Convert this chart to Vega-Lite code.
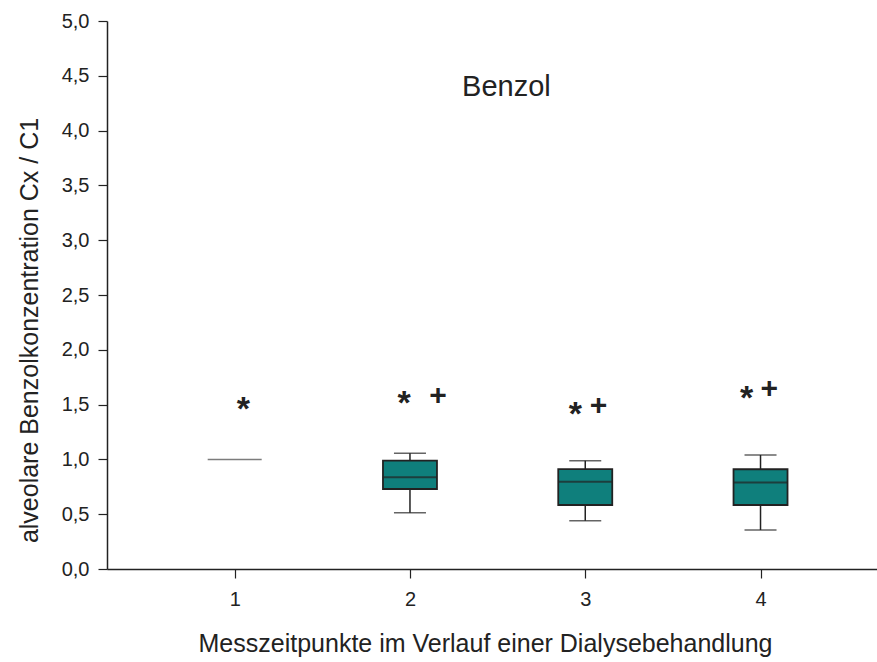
{
  "$schema": "https://vega.github.io/schema/vega-lite/v6.json",
  "width": 770,
  "height": 548,
  "autosize": "none",
  "padding": {"left": 107, "top": 21, "right": 0, "bottom": 93},
  "background": "white",
  "config": {
    "view": {"stroke": null},
    "font": "Liberation Sans",
    "axis": {
      "grid": false,
      "domainColor": "#222222",
      "domainWidth": 1.5,
      "tickColor": "#222222",
      "tickWidth": 1.2,
      "tickSize": 9,
      "labelFont": "Liberation Sans",
      "labelColor": "#222222",
      "titleFont": "Liberation Sans",
      "titleFontWeight": "normal",
      "titleColor": "#222222"
    }
  },
  "datasets": {
    "boxes": [
      {"t": 1, "q1": 1.0, "med": 1.0, "q3": 1.0, "lo": 1.0, "hi": 1.0},
      {"t": 2, "q1": 0.73, "med": 0.837, "q3": 0.988, "lo": 0.514, "hi": 1.056},
      {"t": 3, "q1": 0.584, "med": 0.797, "q3": 0.912, "lo": 0.441, "hi": 0.988},
      {"t": 4, "q1": 0.584, "med": 0.79, "q3": 0.91, "lo": 0.356, "hi": 1.04}
    ],
    "markers": [
      {"x": 1.05, "y": 1.5, "sym": "*"},
      {"x": 1.966, "y": 1.55, "sym": "*"},
      {"x": 2.16, "y": 1.58, "sym": "+"},
      {"x": 2.944, "y": 1.45, "sym": "*"},
      {"x": 3.075, "y": 1.49, "sym": "+"},
      {"x": 3.92, "y": 1.6, "sym": "*"},
      {"x": 4.05, "y": 1.64, "sym": "+"}
    ],
    "label": [{"x": 2.55, "y": 4.315, "text": "Benzol"}]
  },
  "layer": [
    {
      "data": {"name": "boxes"},
      "transform": [{"filter": "datum.t > 1"}],
      "mark": {"type": "rule", "color": "#222222", "strokeWidth": 1.5},
      "encoding": {
        "x": {
          "field": "t", "type": "quantitative",
          "scale": {"domain": [0.3, 4.636], "nice": false, "zero": false},
          "axis": {
            "values": [1, 2, 3, 4],
            "format": "d",
            "labelFontSize": 20,
            "labelPadding": 11,
            "titlePadding": 22,
            "titleFontSize": 25,
            "titleX": 378,
            "title": "Messzeitpunkte im Verlauf einer Dialysebehandlung"
          }
        },
        "y": {
          "field": "lo", "type": "quantitative",
          "scale": {"domain": [0, 5], "nice": false, "zero": true},
          "axis": {
            "values": [0, 0.5, 1, 1.5, 2, 2.5, 3, 3.5, 4, 4.5, 5],
            "labelExpr": "replace(format(datum.value, '.1f'), '.', ',')",
            "labelFontSize": 20,
            "labelPadding": 9,
            "titlePadding": 19,
            "titleFontSize": 25,
            "titleY": 309,
            "title": "alveolare Benzolkonzentration Cx / C1"
          }
        },
        "y2": {"field": "hi"}
      }
    },
    {
      "data": {"name": "boxes"},
      "transform": [{"filter": "datum.t > 1"}],
      "mark": {"type": "tick", "orient": "horizontal", "size": 32, "color": "#222222", "thickness": 1.5},
      "encoding": {
        "x": {"field": "t", "type": "quantitative"},
        "y": {"field": "lo", "type": "quantitative"}
      }
    },
    {
      "data": {"name": "boxes"},
      "transform": [{"filter": "datum.t > 1"}],
      "mark": {"type": "tick", "orient": "horizontal", "size": 32, "color": "#222222", "thickness": 1.5},
      "encoding": {
        "x": {"field": "t", "type": "quantitative"},
        "y": {"field": "hi", "type": "quantitative"}
      }
    },
    {
      "data": {"name": "boxes"},
      "transform": [{"filter": "datum.t > 1"}],
      "mark": {"type": "bar", "size": 54, "fill": "#0F7F7C", "stroke": "#222222", "strokeWidth": 1.8},
      "encoding": {
        "x": {"field": "t", "type": "quantitative"},
        "y": {"field": "q1", "type": "quantitative"},
        "y2": {"field": "q3"}
      }
    },
    {
      "data": {"name": "boxes"},
      "transform": [{"filter": "datum.t > 1"}],
      "mark": {"type": "tick", "orient": "horizontal", "size": 54, "color": "#222222", "thickness": 2},
      "encoding": {
        "x": {"field": "t", "type": "quantitative"},
        "y": {"field": "med", "type": "quantitative"}
      }
    },
    {
      "data": {"name": "boxes"},
      "transform": [{"filter": "datum.t == 1"}],
      "mark": {"type": "tick", "orient": "horizontal", "size": 54, "color": "#444444", "thickness": 1.5},
      "encoding": {
        "x": {"field": "t", "type": "quantitative"},
        "y": {"field": "med", "type": "quantitative"}
      }
    },
    {
      "data": {"name": "markers"},
      "transform": [{"filter": "datum.sym == '*'"}],
      "mark": {"type": "text", "font": "Liberation Sans", "fontWeight": "bold", "fontSize": 34, "color": "#222222", "baseline": "middle", "align": "center", "dy": 5},
      "encoding": {
        "x": {"field": "x", "type": "quantitative"},
        "y": {"field": "y", "type": "quantitative"},
        "text": {"field": "sym"}
      }
    },
    {
      "data": {"name": "markers"},
      "transform": [{"filter": "datum.sym == '+'"}],
      "mark": {"type": "text", "font": "Liberation Sans", "fontWeight": "bold", "fontSize": 30, "color": "#222222", "baseline": "middle", "align": "center"},
      "encoding": {
        "x": {"field": "x", "type": "quantitative"},
        "y": {"field": "y", "type": "quantitative"},
        "text": {"field": "sym"}
      }
    },
    {
      "data": {"name": "label"},
      "mark": {"type": "text", "font": "Liberation Sans", "fontSize": 29, "color": "#222222", "baseline": "alphabetic", "align": "center"},
      "encoding": {
        "x": {"field": "x", "type": "quantitative"},
        "y": {"field": "y", "type": "quantitative"},
        "text": {"field": "text"}
      }
    },
    {
      "mark": {"type": "rule", "color": "#222222", "strokeWidth": 1.5},
      "encoding": {"y": {"datum": 5, "type": "quantitative"}}
    }
  ]
}
